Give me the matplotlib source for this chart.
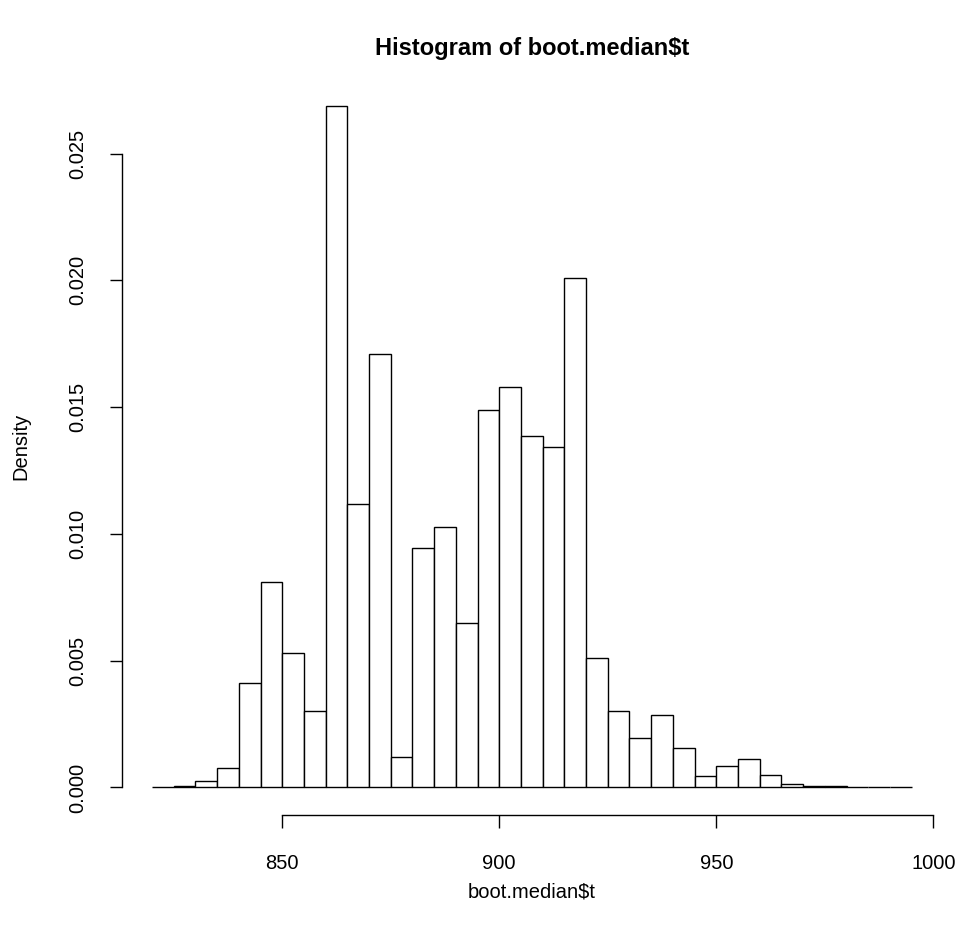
import numpy as np
import matplotlib
matplotlib.use("Agg")
import matplotlib.pyplot as plt

plt.rcParams['font.family'] = ['Liberation Sans', 'DejaVu Sans']

# Histogram data (bin width 5, density scale)
bin_start = 820
bin_width = 5
density = [0.00002, 0.00004, 0.00026, 0.00076, 0.00411, 0.00809, 0.00532, 0.00303,
           0.02688, 0.01119, 0.01708, 0.00119, 0.00946, 0.01027, 0.00650, 0.01489,
           0.01580, 0.01387, 0.01344, 0.02010, 0.00510, 0.00303, 0.00194, 0.00286,
           0.00156, 0.00045, 0.00083, 0.00114, 0.00050, 0.00012, 0.00005, 0.00006,
           0.00000, 0.00002, 0.00002]
x_ticks = [850, 900, 950, 1000]
y_ticks = [0.000, 0.005, 0.010, 0.015, 0.020, 0.025]
y_tick_labels = ["0.000", "0.005", "0.010", "0.015", "0.020", "0.025"]

edges = bin_start + bin_width * np.arange(len(density) + 1)

fig = plt.figure(figsize=(9.68, 9.32), dpi=100)
ax = fig.add_axes([121.6 / 968, (932 - 814.7) / 932, (942 - 121.6) / 968, (814.7 - 78.7) / 932])

ax.bar(edges[:-1], density, width=bin_width, align='edge', color='white',
       edgecolor='black', linewidth=1.0)

xr = edges[-1] - edges[0]
ax.set_xlim(edges[0] - 0.04 * xr, edges[-1] + 0.04 * xr)
ymax = max(density)
ax.set_ylim(-0.04 * ymax, ymax * 1.04)

for s in ['top', 'right']:
    ax.spines[s].set_visible(False)
ax.spines['left'].set_bounds(0, 0.025)
ax.spines['bottom'].set_bounds(850, 1000)
ax.spines['left'].set_linewidth(1.0)
ax.spines['bottom'].set_linewidth(1.0)

ax.set_xticks(x_ticks)
ax.set_xticklabels([str(v) for v in x_ticks])
ax.set_yticks(y_ticks)
ax.set_yticklabels(y_tick_labels, rotation=90, va='center')
ax.tick_params(axis='both', direction='out', length=9, width=1.0, labelsize=14.5, pad=16)
ax.tick_params(axis='x', pad=19)

ax.set_xlabel("boot.median$t", fontsize=14.5, labelpad=7)
ax.set_ylabel("Density", fontsize=14.5, labelpad=27)
fig.text(0.5 * (121.6 + 942) / 968, 1 - 48 / 932, "Histogram of boot.median$t",
         ha='center', va='center', fontsize=17, fontweight='bold')

fig.savefig("out.png", dpi=100)
